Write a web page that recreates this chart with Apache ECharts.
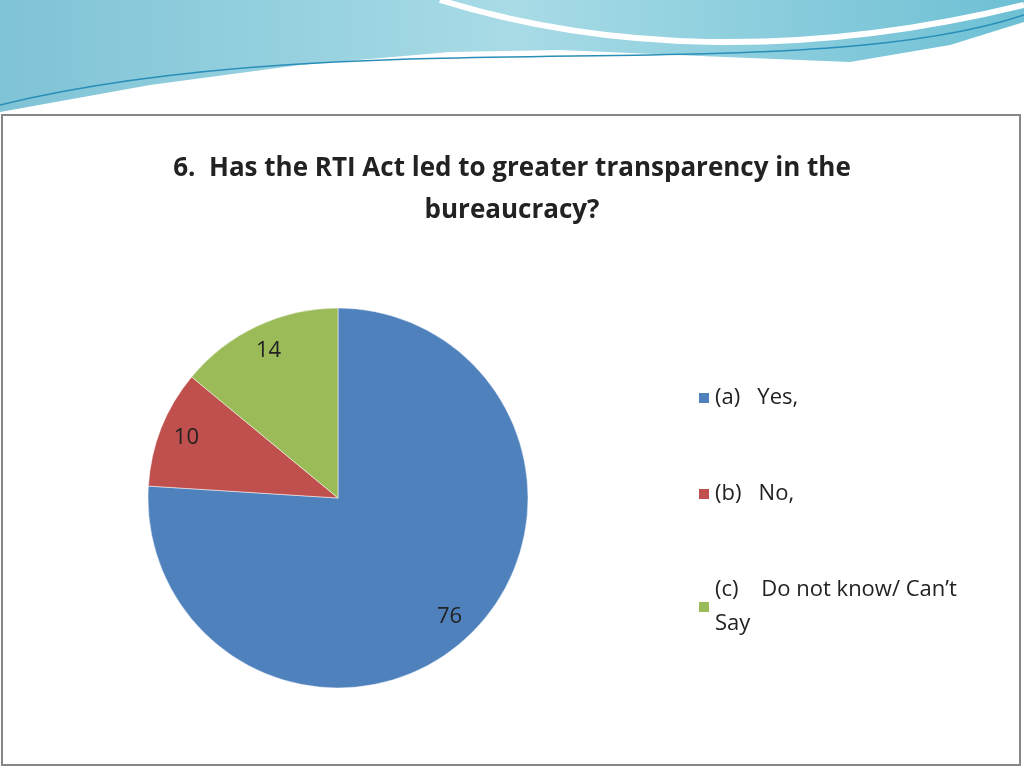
<!DOCTYPE html>
<html><head><meta charset="utf-8">
<script src="https://cdn.jsdelivr.net/npm/echarts@6/dist/echarts.min.js"></script>
<style>html,body{margin:0;padding:0;background:#fff}#c{width:1024px;height:768px}</style>
</head><body><div id="c"></div>
<script>
const categories = ['(a)   Yes,', '(b)   No,', '(c)    Do not know/ Can’t\nSay'];
const values = [76, 10, 14];
const colors = ['#4f81bd', '#c0504d', '#9bbb59'];
const data = categories.map((n, i) => ({name: n, value: values[i], itemStyle: {color: colors[i]}}));
const chart = echarts.init(document.getElementById('c'));
chart.setOption({
  animation: false,
  graphic: [
    {type: 'rect', shape: {x: 0, y: 0, width: 1024, height: 112}, z: -10,
     style: {fill: new echarts.graphic.LinearGradient(0, 0, 1, 0, [{offset: 0, color: '#7fc3d6'}, {offset: 0.5, color: '#a8dbe6'}, {offset: 1, color: '#6ec0d4'}])}},
    {type: 'polygon', z: -9, shape: {points: [[0,112],[150,85],[300,65],[450,52],[560,50],[700,56],[850,62],[950,45],[1024,22],[1024,112]]}, style: {fill: '#ffffff'}},
    {type: 'bezierCurve', z: -8, shape: {x1: 0, y1: 105, x2: 1024, y2: 15, cpx1: 350, cpy1: 20, cpx2: 800, cpy2: 90}, style: {fill: 'none', stroke: '#2a8fb8', lineWidth: 1.5}},
    {type: 'bezierCurve', z: -8, shape: {x1: 440, y1: 0, x2: 1024, y2: 5, cpx1: 600, cpy1: 50, cpx2: 800, cpy2: 60}, style: {fill: 'none', stroke: '#ffffff', lineWidth: 6}},
    {type: 'rect', z: -7, shape: {x: 2, y: 115, width: 1018, height: 650}, style: {fill: '#fff', stroke: '#868686', lineWidth: 2}}
  ],
  title: {text: '6.  Has the RTI Act led to greater transparency in the\nbureaucracy?', left: 507, top: 143, textAlign: 'center',
    textStyle: {fontFamily: 'Open Sans', fontWeight: 'bold', fontSize: 26, lineHeight: 42, color: '#222'}},
  legend: {orient: 'vertical', left: 692, top: 376, itemWidth: 12, itemHeight: 12, itemGap: 62, icon: 'rect',
    data: categories,
    textStyle: {fontFamily: 'Open Sans', fontSize: 22, color: '#222', lineHeight: 34}},
  series: [
    {type: 'pie', center: [338, 498], radius: 190, startAngle: 90, clockwise: true, data: data,
     label: {show: false}, labelLine: {show: false}, itemStyle: {borderColor: '#fff', borderWidth: 0.5}},
    {type: 'pie', center: [338, 498], radius: 320, startAngle: 90, clockwise: true, silent: true, z: 5, legendHoverLink: false,
     data: categories.map((n, i) => ({name: n, value: values[i], itemStyle: {color: 'rgba(0,0,0,0)'}})),
     label: {show: true, position: 'inside', formatter: '{c}', fontFamily: 'Open Sans', fontSize: 22, color: '#222'}, labelLine: {show: false}}
  ]
});
</script></body></html>
